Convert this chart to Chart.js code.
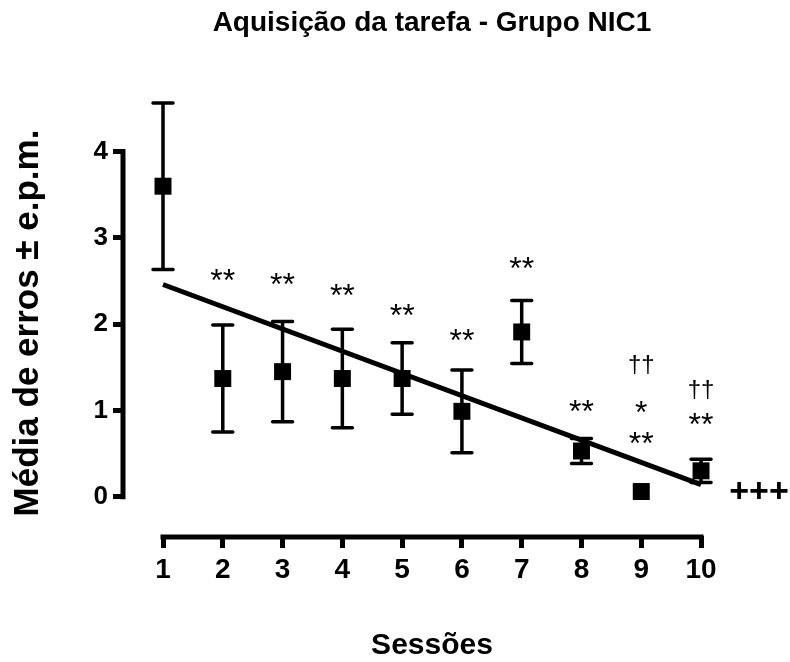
<!DOCTYPE html>
<html><head><meta charset="utf-8">
<script src="https://cdn.jsdelivr.net/npm/chart.js@4.4.1/dist/chart.umd.min.js"></script>
<style>html,body{margin:0;padding:0;background:#fff}#wrap{width:790px;height:662px;position:relative}</style>
</head><body><div id="wrap"><canvas id="c"></canvas></div>
<script>
const sessions = [1, 2, 3, 4, 5, 6, 7, 8, 9, 10];
const meanErrors = [3.6, 1.37, 1.45, 1.37, 1.37, 0.99, 1.91, 0.53, 0.06, 0.30];
const semErrors = [0.965, 0.62, 0.58, 0.57, 0.415, 0.48, 0.365, 0.145, 0, 0.135];
const fitLineX = [1, 10];
const fitLineY = [2.46, 0.14];
const yTickValues = [0, 1, 2, 3, 4];
const xTickValues = [1, 2, 3, 4, 5, 6, 7, 8, 9, 10];
const sigLabels = ['**', '**', '**', '**', '**', '**', '**', '††', '*', '**', '††', '**'];
const sigX = [2, 3, 4, 5, 6, 7, 8, 9, 9, 9, 10, 10];
const sigY = [2.39, 2.34, 2.21, 1.98, 1.69, 2.52, 0.87, 1.44, 0.85, 0.49, 1.16, 0.72];
const trendLabel = '+++';
const trendX = 10.97;
const trendY = -0.06;

const FONT = "'Liberation Sans', Arial, Helvetica, sans-serif";
Chart.defaults.font.family = FONT;
Chart.defaults.color = '#000';

const deco = {
  id: 'deco',
  beforeDatasetsDraw(chart) {
    const {ctx, scales: {x, y}, chartArea} = chart;
    ctx.save();
    ctx.strokeStyle = '#000';
    ctx.lineWidth = 5;
    ctx.lineCap = 'square';
    const ax = chartArea.left - 2;
    ctx.beginPath();
    ctx.moveTo(ax, y.getPixelForValue(yTickValues[yTickValues.length - 1]));
    ctx.lineTo(ax, y.getPixelForValue(yTickValues[0]));
    ctx.stroke();
    const ay = chartArea.bottom + 1;
    ctx.beginPath();
    ctx.moveTo(x.getPixelForValue(xTickValues[0]), ay);
    ctx.lineTo(x.getPixelForValue(xTickValues[xTickValues.length - 1]), ay);
    ctx.stroke();
    ctx.restore();
  },
  afterDatasetsDraw(chart) {
    const {ctx, scales: {x, y}} = chart;
    ctx.save();
    ctx.strokeStyle = '#000';
    ctx.fillStyle = '#000';
    ctx.lineWidth = 3.5;
    ctx.lineCap = 'round';
    sessions.forEach((s, i) => {
      if (!semErrors[i]) return;
      const px = x.getPixelForValue(s);
      const hi = y.getPixelForValue(meanErrors[i] + semErrors[i]);
      const lo = y.getPixelForValue(meanErrors[i] - semErrors[i]);
      ctx.beginPath();
      ctx.moveTo(px, hi); ctx.lineTo(px, lo);
      ctx.moveTo(px - 10, hi); ctx.lineTo(px + 10, hi);
      ctx.moveTo(px - 10, lo); ctx.lineTo(px + 10, lo);
      ctx.stroke();
    });
    ctx.textAlign = 'center';
    ctx.textBaseline = 'alphabetic';
    sigLabels.forEach((t, i) => {
      ctx.font = (t.indexOf('†') >= 0 ? '24px ' : '32px ') + FONT;
      ctx.fillText(t, x.getPixelForValue(sigX[i]), y.getPixelForValue(sigY[i]));
    });
    ctx.font = 'bold 34px ' + FONT;
    ctx.fillText(trendLabel, x.getPixelForValue(trendX), y.getPixelForValue(trendY));
    ctx.restore();
  }
};

const tickGrid = {display: true, drawOnChartArea: false, drawTicks: true, tickLength: 12, tickWidth: 5, tickColor: '#000'};

new Chart(document.getElementById('c'), {
  data: {
    datasets: [
      {type: 'line', data: fitLineX.map((v, i) => ({x: v, y: fitLineY[i]})), borderColor: '#000', borderWidth: 5,
       pointRadius: 0, fill: false, clip: false, order: 2},
      {type: 'scatter', data: sessions.map((s, i) => ({x: s, y: meanErrors[i]})), pointStyle: 'rect', pointRadius: 12,
       backgroundColor: '#000', borderColor: '#000', borderWidth: 0, clip: false, order: 1}
    ]
  },
  options: {
    responsive: true, maintainAspectRatio: false, animation: false,
    layout: {padding: {left: 0, right: 51, top: 0, bottom: 0}},
    plugins: {
      legend: {display: false}, tooltip: {enabled: false},
      title: {display: true, text: 'Aquisição da tarefa - Grupo NIC1', fullSize: false, color: '#000',
              font: {size: 28, weight: 'bold', lineHeight: 1.2}, padding: {top: 6, bottom: 70.4}}
    },
    scales: {
      x: {
        type: 'linear', min: 0.3643, max: 10.635,
        afterBuildTicks: s => { s.ticks = xTickValues.map(v => ({value: v})); },
        afterFit: s => { s.height = 126; },
        grid: tickGrid, border: {display: false},
        ticks: {color: '#000', font: {size: 28, weight: 'bold'}, padding: 5, autoSkip: false, maxRotation: 0},
        title: {display: true, text: 'Sessões', color: '#000', font: {size: 30, weight: 'bold', lineHeight: 1}, padding: {top: 0, bottom: 1}}
      },
      y: {
        type: 'linear', min: -0.4557, max: 4.4835,
        afterBuildTicks: s => { s.ticks = yTickValues.map(v => ({value: v})); },
        afterFit: s => { s.width = 125; },
        grid: tickGrid, border: {display: false},
        ticks: {color: '#000', font: {size: 26, weight: 'bold'}, padding: 5},
        title: {display: true, text: 'Média de erros ± e.p.m.', color: '#000', font: {size: 35, weight: 'bold', lineHeight: 1.2}, padding: {top: 7, bottom: 0}}
      }
    }
  },
  plugins: [deco]
});
</script>
</body></html>
